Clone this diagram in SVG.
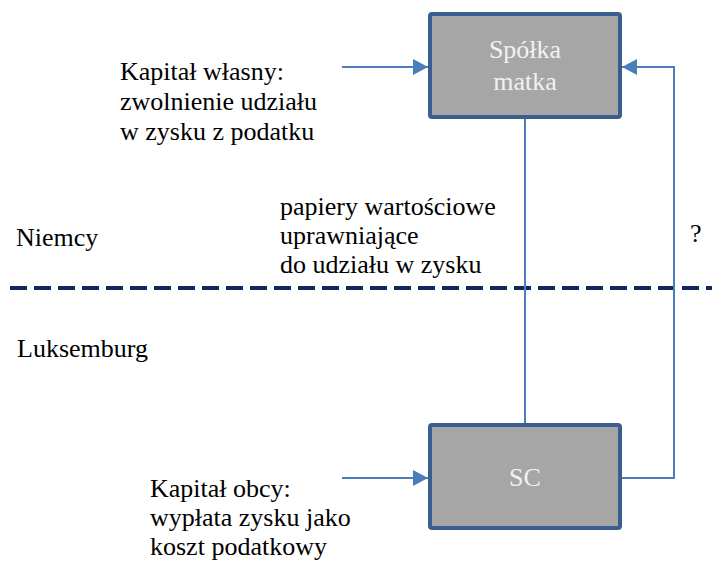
<svg xmlns="http://www.w3.org/2000/svg" width="712" height="563" viewBox="0 0 712 563">
<style>
.t{font-family:"Liberation Serif","Times New Roman",serif;font-size:26px;fill:#000}
.box{fill:#A6A6A6;stroke:#3A5F8F;stroke-width:4}
.bt{fill:#F2F2F2;text-anchor:middle}
.con{fill:none;stroke:#4A7EBB;stroke-width:2}
</style>
<defs>
<marker id="ah" markerUnits="userSpaceOnUse" markerWidth="16" markerHeight="17" refX="15" refY="8" orient="auto">
<path d="M0,0 L15,8 L0,16 z" fill="#4A7EBB"/>
</marker>
</defs>
<line x1="10" y1="288" x2="712" y2="288" stroke="#0E2A5F" stroke-width="4" stroke-dasharray="17 7"/>
<g id="connectors">
<line class="con" x1="342" y1="67" x2="428" y2="67" marker-end="url(#ah)"/>
<line class="con" x1="342" y1="478" x2="428" y2="478" marker-end="url(#ah)"/>
<line class="con" x1="525" y1="119" x2="525" y2="423"/>
<polyline class="con" points="622,478 674,478 674,67 622,67" marker-end="url(#ah)"/>
</g>
<g id="spolka">
<rect class="box" x="430" y="14" width="190" height="103" rx="2"/>
<text class="t bt" x="525" y="58">Spółka</text>
<text class="t bt" x="525" y="90">matka</text>
</g>
<g id="sc">
<rect class="box" x="430" y="425" width="190" height="103" rx="2"/>
<text class="t bt" x="525" y="486">SC</text>
</g>
<g id="labels">
<text class="t" x="120" y="80">Kapitał własny:</text>
<text class="t" x="120" y="110">zwolnienie udziału</text>
<text class="t" x="120" y="140">w zysku z podatku</text>
<text class="t" x="280" y="215">papiery wartościowe</text>
<text class="t" x="280" y="244">uprawniające</text>
<text class="t" x="280" y="273">do udziału w zysku</text>
<text class="t" x="16" y="246">Niemcy</text>
<text class="t" x="17" y="357">Luksemburg</text>
<text class="t" x="690" y="242">?</text>
<text class="t" x="150" y="497">Kapitał obcy:</text>
<text class="t" x="150" y="526">wypłata zysku jako</text>
<text class="t" x="150" y="555">koszt podatkowy</text>
</g>
</svg>
